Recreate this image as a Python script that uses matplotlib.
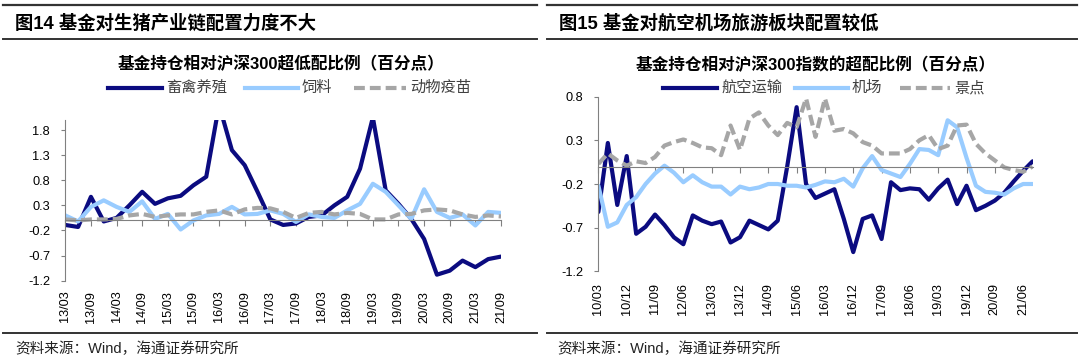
import matplotlib
matplotlib.use("Agg")
import matplotlib.pyplot as plt
from matplotlib.lines import Line2D
import numpy as np

plt.rcParams['font.family'] = ['Liberation Sans', 'Noto Sans CJK SC']
plt.rcParams['axes.unicode_minus'] = False

# ---- data: left chart (quarterly, 13/03 .. 21/09) ----
left_ticklabels = ['13/03', '13/09', '14/03', '14/09', '15/03', '15/09', '16/03', '16/09', '17/03',
                   '17/09', '18/03', '18/09', '19/03', '19/09', '20/03', '20/09', '21/03', '21/09']
livestock = [-0.09, -0.13, 0.47, -0.02, 0.05, 0.30, 0.57, 0.33, 0.44, 0.49, 0.70, 0.87, 2.30, 1.40,
             1.10, 0.57, 0.02, -0.09, -0.06, 0.07, 0.10, 0.30, 0.47, 1.03, 2.05, 0.60, 0.33, 0.03,
             -0.37, -1.08, -1.00, -0.80, -0.93, -0.77, -0.72]
feed = [0.10, -0.02, 0.27, 0.40, 0.27, 0.17, 0.38, 0.03, 0.13, -0.18, 0.00, 0.10, 0.13, 0.27, 0.12,
        0.13, 0.20, 0.13, -0.03, 0.12, 0.07, 0.05, 0.20, 0.33, 0.73, 0.57, 0.30, 0.03, 0.62, 0.17,
        0.05, 0.12, -0.10, 0.17, 0.15]
vaccine = [0.02, 0.00, 0.02, 0.02, 0.03, 0.10, 0.13, 0.07, 0.10, 0.12, 0.12, 0.17, 0.20, 0.12, 0.22,
           0.25, 0.24, 0.17, 0.05, 0.15, 0.17, 0.12, 0.15, 0.13, 0.02, 0.02, 0.12, 0.13, 0.20, 0.22,
           0.20, 0.12, 0.07, 0.10, 0.08]
left_yticks = [-1.2, -0.7, -0.2, 0.3, 0.8, 1.3, 1.8]

# ---- data: right chart (quarterly, 10/03 .. 21/09) ----
right_ticklabels = ['10/03', '10/12', '11/09', '12/06', '13/03', '13/12', '14/09', '15/06',
                    '16/03', '16/12', '17/09', '18/06', '19/03', '19/12', '20/09', '21/06']
aviation = [-0.52, 0.27, -0.44, 0.12, -0.77, -0.69, -0.55, -0.67, -0.81, -0.89, -0.56, -0.62,
            -0.66, -0.63, -0.87, -0.81, -0.62, -0.67, -0.72, -0.62, 0.00, 0.68, -0.20, -0.36,
            -0.31, -0.26, -0.60, -0.98, -0.60, -0.56, -0.83, -0.18, -0.27, -0.25, -0.26, -0.38,
            -0.25, -0.15, -0.43, -0.22, -0.50, -0.45, -0.39, -0.30, -0.17, -0.05, 0.06]
airport = [-0.22, -0.69, -0.64, -0.44, -0.35, -0.20, -0.08, 0.01, -0.07, -0.18, -0.10, -0.18,
           -0.23, -0.23, -0.32, -0.23, -0.26, -0.24, -0.20, -0.20, -0.22, -0.22, -0.24, -0.21,
           -0.17, -0.18, -0.14, -0.23, -0.02, 0.12, -0.04, -0.08, -0.12, 0.03, 0.20, 0.19,
           0.13, 0.53, 0.45, 0.10, -0.22, -0.29, -0.30, -0.32, -0.25, -0.20, -0.20]
scenic = [0.03, 0.15, 0.07, 0.01, 0.06, 0.04, 0.11, 0.24, 0.28, 0.31, 0.27, 0.22, 0.21, 0.13,
          0.47, 0.19, 0.55, 0.62, 0.47, 0.36, 0.50, 0.45, 0.78, 0.34, 0.78, 0.41, 0.43, 0.38,
          0.28, 0.24, 0.15, 0.15, 0.15, 0.20, 0.30, 0.36, 0.20, 0.24, 0.47, 0.48, 0.26, 0.15,
          0.07, -0.01, -0.04, -0.06, 0.00]
right_yticks = [-1.2, -0.7, -0.2, 0.3, 0.8]

DARK = '#0B0B80'
LIGHT = '#99CCFF'
GREY = '#A6A6A6'
AXC = '#808080'

W, H = 1080, 358
fig = plt.figure(figsize=(W / 100, H / 100), dpi=100)


def fx(x):
    return x / W


def fy(y):
    return 1 - y / H


def hline(x0, x1, y, lw=1.5, color='#333333'):
    fig.add_artist(Line2D([fx(x0), fx(x1)], [fy(y), fy(y)], transform=fig.transFigure,
                          color=color, lw=lw))


def legend_entry(x0, x1, y, color, label, dashed=False):
    ln = Line2D([fx(x0), fx(x1)], [fy(y), fy(y)], transform=fig.transFigure, color=color, lw=3.0)
    if dashed:
        ln.set_dashes((2.6, 1.2))
    fig.add_artist(ln)
    fig.text(fx(x1 + 4), fy(y), label, fontsize=11, color='#404040', va='center', ha='left')


def setup_axes(ax, n, step, ticklabels, ylim, yticks, label_off):
    ax.set_xlim(0, n - 1)
    ax.set_ylim(*ylim)
    for s in ['top', 'right']:
        ax.spines[s].set_visible(False)
    ax.spines['bottom'].set_position(('data', 0))
    ax.spines['bottom'].set_color(AXC)
    ax.spines['left'].set_color(AXC)
    ax.spines['bottom'].set_linewidth(0.8)
    ax.spines['left'].set_linewidth(0.8)
    ax.set_yticks(yticks)
    ax.set_yticklabels([f'{v:.1f}' for v in yticks])
    xt = np.arange(0, n, step)
    ax.set_xticks(xt)
    ax.tick_params(axis='x', direction='out', length=4, color=AXC, labelbottom=False)
    ax.tick_params(axis='y', direction='out', length=3, color=AXC, labelsize=9.2, pad=8)
    for pos, lab in zip(xt, ticklabels):
        ax.annotate(lab, xy=(pos, 0), xycoords=('data', 'axes fraction'),
                    xytext=(0, -label_off), textcoords='offset points',
                    rotation=90, ha='center', va='top', fontsize=9.2)
    ax.patch.set_alpha(0)


def draw(ax, series):
    x = np.arange(len(series[0][0]))
    for vals, color, dashed in series:
        ln, = ax.plot(x, vals, color=color, lw=3.0, solid_joinstyle='round',
                      solid_capstyle='round')
        if dashed:
            ln.set_dashes((2.6, 1.2))


# ---- left panel ----
hline(3, 537, 4.7, lw=1.6)
hline(3, 537, 39.3, lw=1.4)
hline(3, 537, 332.7, lw=1.4)
fig.text(fx(15), fy(23.3), '图14 基金对生猪产业链配置力度不大', fontsize=13.2, fontweight='bold',
         va='center', ha='left')
fig.text(fx(281), fy(63.5), '基金持仓相对沪深300超低配比例（百分点）', fontsize=12,
         fontweight='bold', va='center', ha='center')
legend_entry(108, 162, 87.5, DARK, '畜禽养殖')
legend_entry(245, 298, 87.5, LIGHT, '饲料')
legend_entry(354, 406, 87.5, GREY, '动物疫苗', dashed=True)
fig.text(fx(15), fy(349), '资料来源：Wind，海通证券研究所', fontsize=10.5, color='#222222',
         va='center', ha='left')

ax1 = fig.add_axes([fx(65.3), fy(280.7), (501 - 65.3) / W, (280.7 - 120) / H])
setup_axes(ax1, len(livestock), 2, left_ticklabels, (-1.2, 2.0), left_yticks, 7.2)
draw(ax1, [(livestock, DARK, False), (feed, LIGHT, False), (vaccine, GREY, True)])

# ---- right panel ----
hline(547, 1077, 4.7, lw=1.6)
hline(547, 1077, 39.3, lw=1.4)
hline(547, 1077, 332.7, lw=1.4)
fig.text(fx(559), fy(23.3), '图15 基金对航空机场旅游板块配置较低', fontsize=13.2, fontweight='bold',
         va='center', ha='left')
fig.text(fx(816), fy(65), '基金持仓相对沪深300指数的超配比例（百分点）', fontsize=12,
         fontweight='bold', va='center', ha='center')
legend_entry(663, 717, 88.3, DARK, '航空运输')
legend_entry(795, 848, 88.3, LIGHT, '机场')
legend_entry(900, 950, 88.3, GREY, '景点', dashed=True)
fig.text(fx(557), fy(349), '资料来源：Wind，海通证券研究所', fontsize=10.5, color='#222222',
         va='center', ha='left')

ax2 = fig.add_axes([fx(598.4), fy(271.3), (1032.6 - 598.4) / W, (271.3 - 96.7) / H])
setup_axes(ax2, len(aviation), 3, right_ticklabels, (-1.2, 0.8), right_yticks, 8.6)
draw(ax2, [(aviation, DARK, False), (airport, LIGHT, False), (scenic, GREY, True)])

fig.savefig('out.png', dpi=100)
